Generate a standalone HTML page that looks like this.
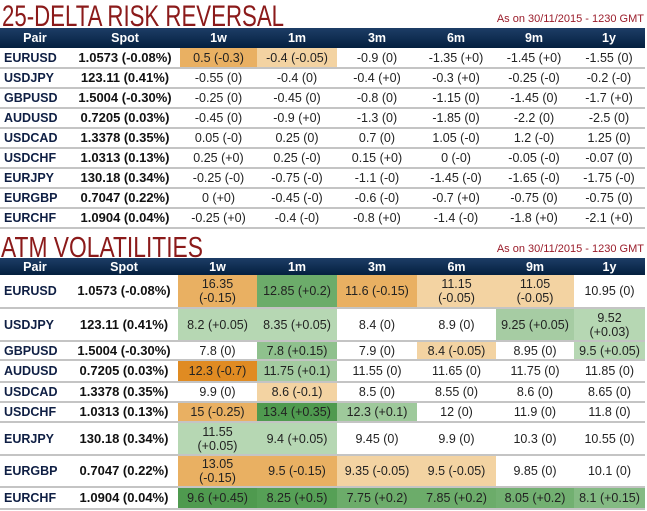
<!DOCTYPE html>
<html><head><meta charset="utf-8"><style>
body{margin:0;width:647px;height:511px;background:#fff;overflow:hidden;font-family:"Liberation Sans",sans-serif;position:relative}
.title{position:absolute;left:0}
.asof{position:absolute;right:3px;font-size:11px;color:#9a1c2a}
table{position:absolute;left:0;border-collapse:collapse;table-layout:fixed;width:645px}
th{background:linear-gradient(#1d3d66,#04203f);color:#fff;font-size:12.5px;font-weight:bold;padding:0;text-align:center}
td{padding:0;text-align:center;font-size:12.5px;color:#222;line-height:14px}
td.p{text-align:left;padding-left:4px;font-weight:bold;color:#0f1f44}
td.s{font-weight:bold;color:#111;font-size:13px}
tr.r td{border-bottom:2px solid #c4c4c4}
.o1{background:#e08b22}.o2{background:#e9b062}.o3{background:#f3d3a2}
.g1{background:#4f9a4f}.g2{background:#6cac6a}.g3{background:#8fc18d}.g4{background:#b6d7b3}
</style></head><body>
<svg class="title" style="top:0" width="300" height="30"><text x="2" y="26" font-family="Liberation Sans" font-size="30" fill="#8b1a1a" textLength="282" lengthAdjust="spacingAndGlyphs">25-DELTA RISK REVERSAL</text></svg>
<div class="asof" style="top:13px">As on 30/11/2015 - 1230 GMT</div>
<table style="top:28px">
<colgroup><col style="width:70px"><col style="width:110px"><col style="width:77px"><col style="width:80px"><col style="width:80px"><col style="width:78px"><col style="width:78px"><col style="width:72px"></colgroup>
<tr style="height:20px"><th>Pair</th><th>Spot</th><th>1w</th><th>1m</th><th>3m</th><th>6m</th><th>9m</th><th>1y</th></tr>
<tr class="r" style="height:20px"><td class="p">EURUSD</td><td class="s">1.0573 (-0.08%)</td><td class="o2">0.5 (-0.3)</td><td class="o3">-0.4 (-0.05)</td><td>-0.9 (0)</td><td>-1.35 (+0)</td><td>-1.45 (+0)</td><td>-1.55 (0)</td></tr>
<tr class="r" style="height:20px"><td class="p">USDJPY</td><td class="s">123.11 (0.41%)</td><td>-0.55 (0)</td><td>-0.4 (0)</td><td>-0.4 (+0)</td><td>-0.3 (+0)</td><td>-0.25 (-0)</td><td>-0.2 (-0)</td></tr>
<tr class="r" style="height:20px"><td class="p">GBPUSD</td><td class="s">1.5004 (-0.30%)</td><td>-0.25 (0)</td><td>-0.45 (0)</td><td>-0.8 (0)</td><td>-1.15 (0)</td><td>-1.45 (0)</td><td>-1.7 (+0)</td></tr>
<tr class="r" style="height:20px"><td class="p">AUDUSD</td><td class="s">0.7205 (0.03%)</td><td>-0.45 (0)</td><td>-0.9 (+0)</td><td>-1.3 (0)</td><td>-1.85 (0)</td><td>-2.2 (0)</td><td>-2.5 (0)</td></tr>
<tr class="r" style="height:20px"><td class="p">USDCAD</td><td class="s">1.3378 (0.35%)</td><td>0.05 (-0)</td><td>0.25 (0)</td><td>0.7 (0)</td><td>1.05 (-0)</td><td>1.2 (-0)</td><td>1.25 (0)</td></tr>
<tr class="r" style="height:20px"><td class="p">USDCHF</td><td class="s">1.0313 (0.13%)</td><td>0.25 (+0)</td><td>0.25 (-0)</td><td>0.15 (+0)</td><td>0 (-0)</td><td>-0.05 (-0)</td><td>-0.07 (0)</td></tr>
<tr class="r" style="height:20px"><td class="p">EURJPY</td><td class="s">130.18 (0.34%)</td><td>-0.25 (-0)</td><td>-0.75 (-0)</td><td>-1.1 (-0)</td><td>-1.45 (-0)</td><td>-1.65 (-0)</td><td>-1.75 (-0)</td></tr>
<tr class="r" style="height:20px"><td class="p">EURGBP</td><td class="s">0.7047 (0.22%)</td><td>0 (+0)</td><td>-0.45 (-0)</td><td>-0.6 (-0)</td><td>-0.7 (+0)</td><td>-0.75 (0)</td><td>-0.75 (0)</td></tr>
<tr class="r" style="height:20px"><td class="p">EURCHF</td><td class="s">1.0904 (0.04%)</td><td>-0.25 (+0)</td><td>-0.4 (-0)</td><td>-0.8 (+0)</td><td>-1.4 (-0)</td><td>-1.8 (+0)</td><td>-2.1 (+0)</td></tr>
</table>
<svg class="title" style="top:231px" width="300" height="30"><text x="1" y="26" font-family="Liberation Sans" font-size="29" fill="#8b1a1a" textLength="202" lengthAdjust="spacingAndGlyphs">ATM VOLATILITIES</text></svg>
<div class="asof" style="top:243px">As on 30/11/2015 - 1230 GMT</div>
<table style="top:258px">
<colgroup><col style="width:70px"><col style="width:108px"><col style="width:79px"><col style="width:80px"><col style="width:80px"><col style="width:79px"><col style="width:78px"><col style="width:71px"></colgroup>
<tr style="height:17px"><th>Pair</th><th>Spot</th><th>1w</th><th>1m</th><th>3m</th><th>6m</th><th>9m</th><th>1y</th></tr>
<tr class="r" style="height:33px"><td class="p">EURUSD</td><td class="s">1.0573 (-0.08%)</td><td class="o2">16.35<br>(-0.15)</td><td class="g2">12.85 (+0.2)</td><td class="o2">11.6 (-0.15)</td><td class="o3">11.15<br>(-0.05)</td><td class="o3">11.05<br>(-0.05)</td><td>10.95 (0)</td></tr>
<tr class="r" style="height:33px"><td class="p">USDJPY</td><td class="s">123.11 (0.41%)</td><td class="g4">8.2 (+0.05)</td><td class="g4">8.35 (+0.05)</td><td>8.4 (0)</td><td>8.9 (0)</td><td class="g3" style="background:#a6cca3">9.25 (+0.05)</td><td class="g4">9.52<br>(+0.03)</td></tr>
<tr class="r" style="height:19px"><td class="p">GBPUSD</td><td class="s">1.5004 (-0.30%)</td><td>7.8 (0)</td><td class="g3">7.8 (+0.15)</td><td>7.9 (0)</td><td class="o3">8.4 (-0.05)</td><td>8.95 (0)</td><td class="g4">9.5 (+0.05)</td></tr>
<tr class="r" style="height:22px"><td class="p">AUDUSD</td><td class="s">0.7205 (0.03%)</td><td class="o1">12.3 (-0.7)</td><td class="g3" style="background:#a3cba0">11.75 (+0.1)</td><td>11.55 (0)</td><td>11.65 (0)</td><td>11.75 (0)</td><td>11.85 (0)</td></tr>
<tr class="r" style="height:20px"><td class="p">USDCAD</td><td class="s">1.3378 (0.35%)</td><td>9.9 (0)</td><td class="o3">8.6 (-0.1)</td><td>8.5 (0)</td><td>8.55 (0)</td><td>8.6 (0)</td><td>8.65 (0)</td></tr>
<tr class="r" style="height:20px"><td class="p">USDCHF</td><td class="s">1.0313 (0.13%)</td><td class="o2">15 (-0.25)</td><td class="g1">13.4 (+0.35)</td><td class="g3" style="background:#9ec99b">12.3 (+0.1)</td><td>12 (0)</td><td>11.9 (0)</td><td>11.8 (0)</td></tr>
<tr class="r" style="height:33px"><td class="p">EURJPY</td><td class="s">130.18 (0.34%)</td><td class="g4">11.55<br>(+0.05)</td><td class="g4">9.4 (+0.05)</td><td>9.45 (0)</td><td>9.9 (0)</td><td>10.3 (0)</td><td>10.55 (0)</td></tr>
<tr class="r" style="height:32px"><td class="p">EURGBP</td><td class="s">0.7047 (0.22%)</td><td class="o2">13.05<br>(-0.15)</td><td class="o2">9.5 (-0.15)</td><td class="o3">9.35 (-0.05)</td><td class="o3">9.5 (-0.05)</td><td>9.85 (0)</td><td>10.1 (0)</td></tr>
<tr class="r" style="height:22px"><td class="p">EURCHF</td><td class="s">1.0904 (0.04%)</td><td class="g1">9.6 (+0.45)</td><td class="g1" style="background:#56a056">8.25 (+0.5)</td><td class="g2">7.75 (+0.2)</td><td class="g2">7.85 (+0.2)</td><td class="g2" style="background:#72b071">8.05 (+0.2)</td><td class="g3" style="background:#84ba83">8.1 (+0.15)</td></tr>
</table>
</body></html>
